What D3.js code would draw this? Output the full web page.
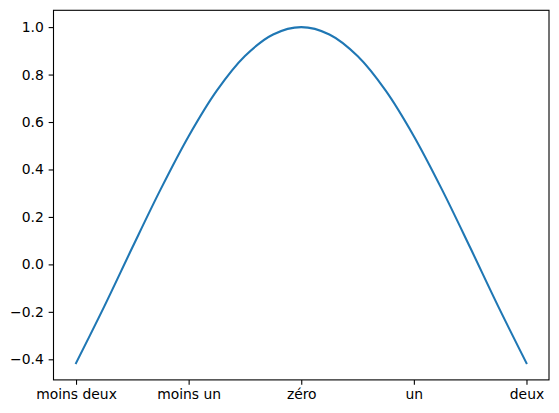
<!DOCTYPE html>
<html>
<head>
<meta charset="utf-8">
<script src="https://cdn.jsdelivr.net/npm/d3@7"></script>
<style>
  html, body { margin: 0; padding: 0; background: #fff; }
  svg { display: block; }
  text { font-family: "DejaVu Sans", sans-serif; font-size: 13.9px; fill: #000; }
</style>
</head>
<body>
<svg id="chart" width="559" height="413"></svg>
<script>
// Data
const xValues = [-2, -1.75, -1.5, -1.25, -1, -0.75, -0.5, -0.25, 0, 0.25, 0.5, 0.75, 1, 1.25, 1.5, 1.75, 2];
const yValues = [-0.416, -0.178, 0.071, 0.315, 0.540, 0.732, 0.878, 0.969, 1.0, 0.969, 0.878, 0.732, 0.540, 0.315, 0.071, -0.178, -0.416];
const xTickValues = [-2, -1, 0, 1, 2];
const xTickLabels = ["moins deux", "moins un", "zéro", "un", "deux"];
const yTickValues = [-0.4, -0.2, 0.0, 0.2, 0.4, 0.6, 0.8, 1.0];

const svg = d3.select("#chart");
const plotLeft = 53.5, plotRight = 549, plotTop = 10.3, plotBottom = 379.9;

const xMin = d3.min(xValues), xMax = d3.max(xValues);
const yMin = d3.min(yValues), yMax = d3.max(yValues);
const xPad = (xMax - xMin) * 0.05, yPad = (yMax - yMin) * 0.05;

const x = d3.scaleLinear().domain([xMin - xPad, xMax + xPad]).range([plotLeft, plotRight]);
const y = d3.scaleLinear().domain([yMin - yPad, yMax + yPad]).range([plotBottom, plotTop]);

const data = xValues.map((v, i) => ({x: v, y: yValues[i]}));

svg.append("path")
  .datum(data)
  .attr("fill", "none")
  .attr("stroke", "#1f77b4")
  .attr("stroke-width", 2.08)
  .attr("stroke-linecap", "square")
  .attr("d", d3.line().x(d => x(d.x)).y(d => y(d.y)).curve(d3.curveCatmullRom.alpha(0.5)));

const xAxis = d3.axisBottom(x)
  .tickValues(xTickValues)
  .tickFormat((d, i) => xTickLabels[i])
  .tickSize(4.86).tickPadding(4.86).tickSizeOuter(0);
const gx = svg.append("g").attr("transform", `translate(0,${plotBottom})`).call(xAxis);

const yAxis = d3.axisLeft(y)
  .tickValues(yTickValues)
  .tickFormat(d => d3.format(".1f")(d).replace("-", "\u2212"))
  .tickSize(4.86).tickPadding(4.86).tickSizeOuter(0);
const gy = svg.append("g").attr("transform", `translate(${plotLeft},0)`).call(yAxis);

[gx, gy].forEach(g => {
  g.select(".domain").remove();
  g.selectAll(".tick line").attr("stroke", "#000").attr("stroke-width", 1.1);
  g.selectAll(".tick text").attr("font-size", "13.9px").attr("font-family", "DejaVu Sans, sans-serif").attr("fill", "#000");
});

svg.append("rect")
  .attr("x", plotLeft).attr("y", plotTop)
  .attr("width", plotRight - plotLeft).attr("height", plotBottom - plotTop)
  .attr("fill", "none").attr("stroke", "#000").attr("stroke-width", 1.1);
</script>
</body>
</html>
